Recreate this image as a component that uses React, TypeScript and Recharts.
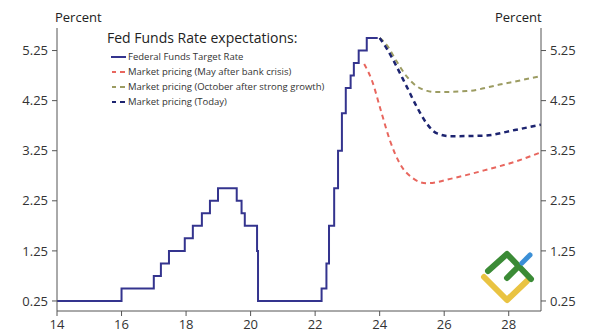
import React from 'react';
import { LineChart, Line, XAxis, YAxis } from 'recharts';

// Fed funds target rate (upper bound), step changes by year
const fedYears = [14, 16, 17, 17.22, 17.47, 17.96, 18.21, 18.49, 18.74, 18.99, 19.57, 19.72, 19.82, 20.2, 20.23, 22.2, 22.35, 22.43, 22.59, 22.71, 22.83, 22.95, 23.1, 23.2, 23.35, 23.6, 23.94];
const fedRates = [0.25, 0.5, 0.75, 1.0, 1.25, 1.5, 1.75, 2.0, 2.25, 2.5, 2.25, 2.0, 1.75, 1.25, 0.25, 0.5, 1.0, 1.75, 2.5, 3.25, 4.0, 4.5, 4.75, 5.0, 5.25, 5.5, 5.5];

// market pricing curves
const mayYears = [23.52, 23.75, 24.06, 24.31, 24.62, 25.03, 25.45, 26.27, 27.31, 28.24, 29];
const mayRates = [4.98, 4.67, 4.0, 3.47, 3.0, 2.7, 2.6, 2.7, 2.87, 3.04, 3.22];

const octYears = [24.0, 24.21, 24.52, 24.83, 25.14, 25.45, 25.7, 26.7, 27.72, 29];
const octRates = [5.5, 5.37, 5.04, 4.74, 4.54, 4.45, 4.42, 4.44, 4.57, 4.74];

const todayYears = [24.0, 24.21, 24.47, 24.83, 25.14, 25.45, 25.76, 26.17, 27.2, 28.24, 29];
const todayRates = [5.5, 5.3, 5.0, 4.54, 4.14, 3.8, 3.6, 3.54, 3.55, 3.67, 3.77];

const xTicks = [14, 16, 18, 20, 22, 24, 26, 28];
const yTicks = [0.25, 1.25, 2.25, 3.25, 4.25, 5.25];

const legendTitle = 'Fed Funds Rate expectations:';
const seriesNames = [
  'Federal Funds Target Rate',
  'Market pricing (May after bank crisis)',
  'Market pricing (October after strong growth)',
  'Market pricing (Today)',
];

const FONT = '"Open Sans", sans-serif';
const NAVY = '#34348e';
const RED = '#e8665e';
const OLIVE = '#9c9c62';
const DARK = '#1d2470';

const toPoints = (xs: number[], ys: number[]) => xs.map((x, i) => ({ x, y: ys[i] }));

const series = [
  { name: seriesNames[0], data: toPoints(fedYears, fedRates), color: NAVY, width: 2, dash: undefined, type: 'stepAfter' },
  { name: seriesNames[1], data: toPoints(mayYears, mayRates), color: RED, width: 2, dash: '5 4', type: 'monotone' },
  { name: seriesNames[2], data: toPoints(octYears, octRates), color: OLIVE, width: 2, dash: '5 4', type: 'monotone' },
  { name: seriesNames[3], data: toPoints(todayYears, todayRates), color: DARK, width: 2.5, dash: '5 4', type: 'monotone' },
];

const LegendBox = () => (
  <div style={{ position: 'absolute', left: 107, top: 28, fontFamily: FONT, color: '#222' }}>
    <div style={{ fontSize: 14, lineHeight: '20px', marginBottom: 1 }}>{legendTitle}</div>
    {series.map((s) => (
      <div key={s.name} style={{ display: 'flex', alignItems: 'center', height: 15, marginLeft: 4 }}>
        <svg width={16} height={6} style={{ marginRight: 1 }}>
          {s.dash ? (
            <>
              <line x1={1} y1={3} x2={5} y2={3} stroke={s.color} strokeWidth={2} />
              <line x1={9} y1={3} x2={14} y2={3} stroke={s.color} strokeWidth={2} />
            </>
          ) : (
            <line x1={0} y1={3} x2={15} y2={3} stroke={s.color} strokeWidth={2} />
          )}
        </svg>
        <span style={{ fontSize: 9.5, color: '#333' }}>{s.name}</span>
      </div>
    ))}
  </div>
);

// watermark logo in the lower right
const Logo = () => (
  <svg width={596} height={336} style={{ position: 'absolute', left: 0, top: 0, pointerEvents: 'none' }}>
    <polyline points="484,277 507,300 527,281" fill="none" stroke="#e9c342" strokeWidth={6} strokeLinecap="round" strokeLinejoin="round" />
    <polyline points="488,271 507,254 531,279" fill="none" stroke="#3b8b36" strokeWidth={6} strokeLinecap="round" strokeLinejoin="round" />
    <line x1={507} y1={278} x2={519} y2={266} stroke="#3b8b36" strokeWidth={6} strokeLinecap="round" />
    <line x1={522} y1={263} x2={530} y2={255} stroke="#3b8fd6" strokeWidth={5} strokeLinecap="round" />
  </svg>
);

export default function App() {
  return (
    <div style={{ position: 'relative', width: 596, height: 336, background: '#fff' }}>
      <style>{'body{margin:0}'}</style>
      <div style={{ position: 'absolute', left: 55, top: 8, fontFamily: FONT, fontSize: 13, color: '#222' }}>Percent</div>
      <div style={{ position: 'absolute', left: 495, top: 8, fontFamily: FONT, fontSize: 13, color: '#222' }}>Percent</div>
      <LineChart width={596} height={336} margin={{ top: 28, right: 0, bottom: 0, left: 0 }}>
        <XAxis
          type="number"
          dataKey="x"
          domain={[14, 29]}
          ticks={xTicks}
          allowDataOverflow
          height={25}
          stroke="#555"
          tickSize={5}
          tickMargin={4}
          tick={{ fill: '#333', fontSize: 13, fontFamily: FONT }}
        />
        <YAxis
          yAxisId="left"
          domain={[0.05, 5.7]}
          ticks={yTicks}
          allowDataOverflow
          width={57}
          stroke="#555"
          tickSize={5}
          tickMargin={4}
          tickFormatter={(v: number) => v.toFixed(2)}
          tick={{ fill: '#333', fontSize: 13, fontFamily: FONT }}
        />
        <YAxis
          yAxisId="right"
          orientation="right"
          domain={[0.05, 5.7]}
          ticks={yTicks}
          allowDataOverflow
          width={55}
          stroke="#555"
          tickSize={5}
          tickMargin={4}
          tickFormatter={(v: number) => v.toFixed(2)}
          tick={{ fill: '#333', fontSize: 13, fontFamily: FONT }}
        />
        {series.map((s) => (
          <Line
            key={s.name}
            yAxisId="left"
            data={s.data}
            dataKey="y"
            name={s.name}
            type={s.type as any}
            stroke={s.color}
            strokeWidth={s.width}
            strokeDasharray={s.dash}
            dot={false}
            activeDot={false}
            isAnimationActive={false}
          />
        ))}
      </LineChart>
      <LegendBox />
      <Logo />
    </div>
  );
}
